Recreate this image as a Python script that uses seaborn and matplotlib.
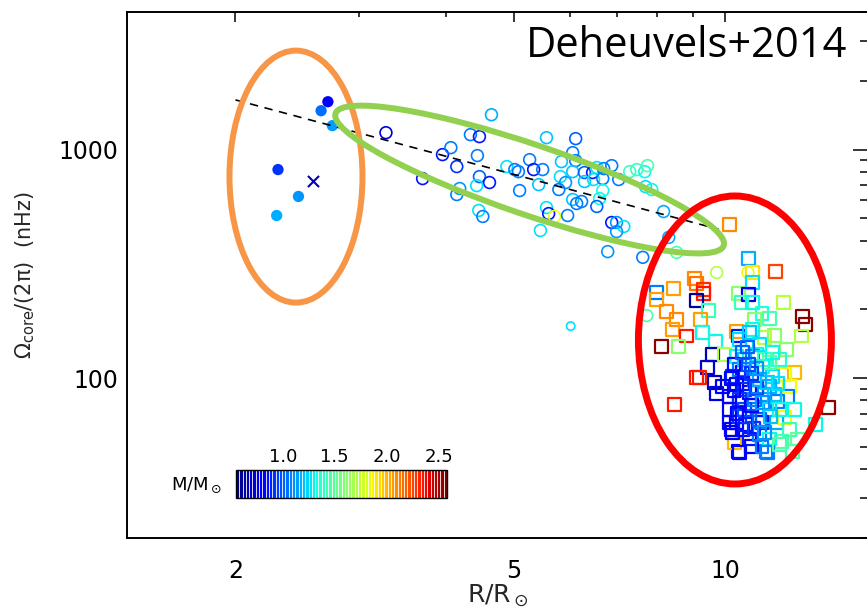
import numpy as np
import pandas as pd
import matplotlib
matplotlib.use("Agg")
import matplotlib.pyplot as plt
import matplotlib.ticker as mticker
import matplotlib.cm as cm
from matplotlib.colors import Normalize, BoundaryNorm
from matplotlib.patches import Ellipse
from matplotlib.transforms import IdentityTransform
import seaborn as sns

# --- data (R in R_sun, Omega_core/2pi in nHz, M in M_sun) ---
# subgiants (filled dots) and the single "x" star
sub_R = [2.30, 2.46, 2.29, 2.71, 2.65, 2.75]
sub_om = [818, 624, 515, 1620, 1480, 1273]
sub_m = [0.90, 1.10, 1.15, 0.78, 1.02, 1.12]
cross_R = [2.58]
cross_om = [732]
cross_m = [0.65]

# early red giants (open circles)
circ_R = [3.28, 3.70, 3.95, 4.06, 4.14, 4.33, 4.46, 4.43, 4.46, 4.61,
          4.18, 4.14, 4.42, 4.45, 4.51, 4.64, 4.88, 5.01, 5.07, 5.09,
          5.26, 5.33, 5.49, 5.42, 5.56, 5.56, 5.60, 5.71, 5.45, 5.84,
          5.82, 5.92, 5.79, 5.96, 6.06, 6.12, 6.12, 6.06, 6.06, 6.14,
          6.24, 6.30, 6.47, 6.56, 6.71, 6.89, 6.30, 6.49, 6.69, 7.05,
          6.69, 6.62, 6.56, 6.89, 7.00, 7.17, 7.00, 6.80, 7.31, 7.48,
          7.68, 7.75, 7.70, 7.86, 8.17, 8.31, 8.53, 7.63, 9.73, 7.73,
          10.78]
circ_om = [1186, 747, 951, 1020, 843, 1163, 1140, 942, 762, 718,
           676, 636, 696, 542, 510, 1421, 843, 818, 801, 662,
           904, 818, 818, 703, 1128, 558, 525, 510, 443, 886,
           762, 718, 669, 515, 970, 1117, 895, 801, 605, 581,
           593, 794, 794, 835, 826, 851, 725, 740, 747, 740,
           662, 611, 564, 480, 480, 461, 438, 358, 801, 818,
           801, 851, 689, 669, 536, 413, 355, 338, 290, 188,
           290]
circ_m = [0.72, 0.85, 0.85, 1.05, 0.90, 1.05, 0.85, 1.05, 1.00, 0.85,
          1.10, 1.05, 1.25, 1.25, 1.05, 1.15, 1.25, 1.05, 1.05, 1.05,
          1.05, 0.85, 1.05, 1.20, 1.20, 1.25, 0.85, 1.85, 1.25, 1.20,
          1.25, 1.10, 1.05, 1.05, 1.05, 1.00, 1.05, 1.20, 1.20, 1.05,
          1.05, 1.00, 0.85, 1.25, 1.05, 1.05, 1.20, 1.25, 1.05, 1.05,
          1.30, 1.30, 1.00, 0.85, 1.10, 1.25, 1.10, 1.10, 1.40, 1.40,
          1.30, 1.45, 1.25, 1.30, 1.15, 1.15, 1.45, 1.05, 1.70, 1.45,
          1.85]
odd_R = [6.02]
odd_om = [169]
odd_m = [1.25]

# core-helium-burning giants (open squares)
sq_R = [10.81, 10.96, 11.82, 10.96, 9.05, 9.11, 9.32, 9.32, 8.45, 7.99,
        7.99, 9.11, 9.48, 10.46, 10.81, 10.57, 10.96, 12.13, 8.26, 8.53,
        8.42, 9.23, 9.29, 8.82, 8.12, 8.59, 9.70, 11.29, 11.59, 11.03,
        12.91, 13.04, 12.87, 11.78, 10.39, 10.46, 11.40, 10.96, 9.60, 9.99,
        9.45, 9.67, 9.73, 9.11, 9.20, 8.48, 12.25, 11.10, 12.58, 12.37,
        12.17, 12.29, 11.89, 14.06, 13.48, 12.17, 12.05, 12.49, 11.44, 10.92,
        10.46, 10.33, 10.60, 11.14, 10.39, 10.60, 10.96, 11.32, 11.70, 11.59,
        10.85, 10.50, 11.59, 11.85, 11.29, 10.85, 10.39, 10.22, 10.50, 10.85,
        10.39, 10.50, 10.26, 9.93, 10.16, 10.50, 10.16, 10.50, 10.16, 10.26,
        10.67, 11.21, 11.40, 11.03, 10.67, 11.21, 11.97, 11.78, 11.21, 11.59,
        10.85, 10.67, 11.03, 11.40, 11.97, 12.37, 12.70, 10.78, 12.58, 11.59,
        10.50, 11.29, 11.51, 11.97, 10.16,
        10.30, 10.60, 10.90, 11.10, 10.40, 10.70, 11.00, 11.20, 10.30, 10.90,
        11.30, 11.50, 11.10, 10.60, 11.70, 11.40, 10.80, 11.60, 10.20, 11.90]
sq_om = [334, 290, 293, 263, 273, 260, 245, 235, 247, 237,
         221, 219, 198, 235, 233, 215, 215, 215, 196, 181,
         164, 181, 159, 153, 138, 138, 145, 192, 183, 181,
         187, 172, 153, 154, 160, 153, 151, 164, 127, 127,
         111, 96.0, 86.0, 101, 101, 77.0, 134, 127, 106, 92.3,
         104, 83.4, 79.4, 74.7, 63.0, 67.6, 53.1, 48.0, 48.0, 50.4,
         48.0, 52.5, 59.9, 73.2, 94.1, 106, 125, 113, 102, 92.3,
         86.9, 78.6, 73.2, 64.2, 64.2, 68.2, 64.2, 59.9, 148, 159,
         125, 109, 102, 92.3, 83.4, 81.0, 73.2, 68.2, 64.2, 58.1,
         121, 141, 85.1, 99.0, 89.5, 99.0, 121, 85.1, 56.9, 54.2,
         54.2, 73.2, 81.0, 121, 73.2, 59.9, 54.2, 137, 73.2, 117,
         47.5, 50.4, 47.5, 51.5, 470,
         115, 95, 105, 90, 70, 63, 60, 66, 88, 76,
         78, 96, 110, 130, 130, 58, 115, 68, 100, 95]
sq_m = [1.15, 1.90, 2.25, 1.25, 2.10, 2.15, 2.30, 2.35, 2.05, 1.05,
        2.05, 0.60, 1.40, 1.60, 0.75, 1.40, 1.30, 1.70, 2.10, 2.10,
        2.05, 2.05, 1.30, 2.35, 2.55, 1.60, 1.30, 1.35, 1.45, 1.60,
        2.55, 2.55, 1.70, 1.60, 2.05, 0.85, 1.70, 1.30, 0.65, 1.70,
        0.70, 0.65, 0.72, 2.35, 2.35, 2.35, 1.60, 1.30, 2.00, 1.85,
        1.85, 1.05, 1.05, 2.55, 1.30, 1.85, 1.45, 1.45, 1.05, 0.80,
        0.80, 2.00, 0.80, 1.05, 0.70, 0.80, 1.05, 1.30, 1.25, 1.15,
        0.80, 0.80, 1.25, 1.15, 0.85, 1.00, 0.80, 0.75, 1.25, 1.20,
        1.30, 1.05, 0.90, 0.80, 0.80, 0.90, 0.80, 0.90, 0.80, 0.75,
        1.20, 1.25, 1.10, 1.00, 0.90, 1.15, 1.35, 1.20, 1.05, 1.30,
        0.85, 0.95, 1.05, 1.40, 1.30, 1.40, 1.50, 1.00, 1.30, 1.50,
        0.80, 1.05, 1.05, 1.45, 2.10,
        0.80, 0.85, 0.90, 0.95, 0.80, 0.85, 0.90, 1.00, 0.75, 0.80,
        1.10, 1.20, 1.10, 1.00, 1.30, 1.10, 0.95, 1.20, 0.80, 1.25]

# dashed power-law trend
fit_R = [2.0, 9.8]
fit_om = [1650, 448]

# highlight ellipses: centre (R, Omega), size in pixels, angle
ell_center_R = [2.44, 5.26, 10.33]
ell_center_om = [762, 740, 147]
ell_width = [133, 410, 193]
ell_height = [252, 70, 288]
ell_angle = [0, -18.8, 0]
ell_color = ['#F79646', '#92D050', '#FF0000']
ell_lw = [4.3, 4.3, 5.0]

mass_vmin, mass_vmax = 0.55, 2.58
cbar_ticks = [1.0, 1.5, 2.0, 2.5]
x_major = [2, 5, 10]
x_minor = [3, 4, 6, 7, 8, 9]

JET = matplotlib.colormaps['jet']


def open_markers(ax, before):
    # seaborn paints hue into facecolors; move it to the edges for open symbols
    for coll in ax.collections[before:]:
        fc = coll.get_facecolors()
        coll.set_edgecolors(fc)
        coll.set_facecolors('none')


sns.set_theme(style="white")
plt.rcParams['font.family'] = ['DejaVu Sans']
plt.rcParams['mathtext.default'] = 'regular'

fig = plt.figure(figsize=(8.67, 6.14), dpi=100)
ax = fig.add_axes([127 / 867, 1 - 538 / 614, (868 - 127) / 867, (538 - 12) / 614])
ax.set_xscale('log')
ax.set_yscale('log')
ax.set_xlim(1.4, 16)
ax.set_ylim(20, 4000)

norm = Normalize(mass_vmin, mass_vmax)
circ_df = pd.DataFrame({'R': circ_R, 'Omega': circ_om, 'M': circ_m})
odd_df = pd.DataFrame({'R': odd_R, 'Omega': odd_om, 'M': odd_m})
sq_df = pd.DataFrame({'R': sq_R, 'Omega': sq_om, 'M': sq_m})
sub_df = pd.DataFrame({'R': sub_R, 'Omega': sub_om, 'M': sub_m})
cross_df = pd.DataFrame({'R': cross_R, 'Omega': cross_om, 'M': cross_m})

n0 = len(ax.collections)
sns.scatterplot(data=circ_df, x='R', y='Omega', hue='M', palette=JET, hue_norm=norm,
                marker='o', s=72, linewidth=1.2, legend=False, ax=ax)
sns.scatterplot(data=odd_df, x='R', y='Omega', hue='M', palette=JET, hue_norm=norm,
                marker='o', s=36, linewidth=1.2, legend=False, ax=ax)
sns.scatterplot(data=sq_df, x='R', y='Omega', hue='M', palette=JET, hue_norm=norm,
                marker='s', s=86, linewidth=1.6, legend=False, ax=ax)
open_markers(ax, n0)

sns.scatterplot(data=sub_df, x='R', y='Omega', hue='M', palette=JET, hue_norm=norm,
                marker='o', s=66, linewidth=0, legend=False, ax=ax)
n1 = len(ax.collections)
sns.scatterplot(data=cross_df, x='R', y='Omega', hue='M', palette=JET, hue_norm=norm,
                marker='x', s=64, linewidth=1.5, legend=False, ax=ax)
for coll in ax.collections[n1:]:
    coll.set_edgecolors(coll.get_facecolors())

ax.plot(fit_R, fit_om, color='black', lw=1.2, ls=(0, (5, 4)), zorder=3)

ax.set_xlim(1.4, 16)
ax.set_ylim(20, 4000)

# ellipses drawn in pixel space so they stay round on the log axes
for cr, co, w, h, a, c, lw in zip(ell_center_R, ell_center_om, ell_width, ell_height,
                                  ell_angle, ell_color, ell_lw):
    cx, cy = ax.transData.transform((cr, co))
    e = Ellipse((cx, cy), w, h, angle=a, transform=IdentityTransform(),
                fill=False, edgecolor=c, lw=lw, zorder=4)
    ax.add_patch(e)

ax.set_xlim(1.4, 16)
ax.set_ylim(20, 4000)

# ticks
ax.xaxis.set_major_locator(mticker.FixedLocator(x_major))
ax.xaxis.set_minor_locator(mticker.FixedLocator(x_minor))
ax.xaxis.set_major_formatter(mticker.FuncFormatter(lambda v, p: f'{v:g}'))
ax.xaxis.set_minor_formatter(mticker.NullFormatter())
ax.yaxis.set_major_locator(mticker.LogLocator(base=10))
ax.yaxis.set_minor_locator(mticker.LogLocator(base=10, subs=np.arange(2, 10)))
ax.yaxis.set_major_formatter(mticker.FuncFormatter(lambda v, p: f'{v:.0f}'))
ax.yaxis.set_minor_formatter(mticker.NullFormatter())

ax.tick_params(which='both', direction='in', top=True, right=True,
               colors='black', width=1.1, labelsize=17)
ax.tick_params(axis='x', which='major', length=7.2, pad=15)
ax.tick_params(axis='x', which='minor', length=3.6)
ax.tick_params(axis='y', which='major', length=10.8, pad=6)
ax.tick_params(axis='y', which='minor', length=5.8)
for sp in ax.spines.values():
    sp.set_color('black')
    sp.set_linewidth(1.4)

ax.set_xlabel(r'R/R$_\odot$', fontsize=18, labelpad=0)
ax.set_ylabel(r'$\Omega_{core}/(2\pi)$  (nHz)', fontsize=15, labelpad=16)

ax.text(0.9717, 0.975, 'Deheuvels+2014', transform=ax.transAxes, ha='right', va='top',
        fontsize=30, family=['Open Sans', 'DejaVu Sans'], color='black')

# mass colour bar
cax = ax.inset_axes([0.1471, 0.076, 0.2848, 0.0532])
bounds = np.linspace(mass_vmin, mass_vmax, 65)
bnorm = BoundaryNorm(bounds, 256)
cb = fig.colorbar(cm.ScalarMappable(norm=bnorm, cmap=JET), cax=cax,
                  orientation='horizontal', drawedges=True)
cb.dividers.set_color('white')
cb.dividers.set_linewidth(0.6)
cb.outline.set_linewidth(1.0)
cb.outline.set_edgecolor('black')
cb.set_ticks(cbar_ticks)
cb.set_ticklabels([f'{t:.1f}' for t in cbar_ticks])
cax.minorticks_off()
cax.xaxis.set_ticks_position('top')
cax.tick_params(which='both', length=0, labelsize=13, pad=3, colors='black')
cax.text(-0.066, 0.45, r'M/M$_\odot$', transform=cax.transAxes, ha='right', va='center',
         fontsize=13, color='black')

fig.savefig('out.png', dpi=100)
